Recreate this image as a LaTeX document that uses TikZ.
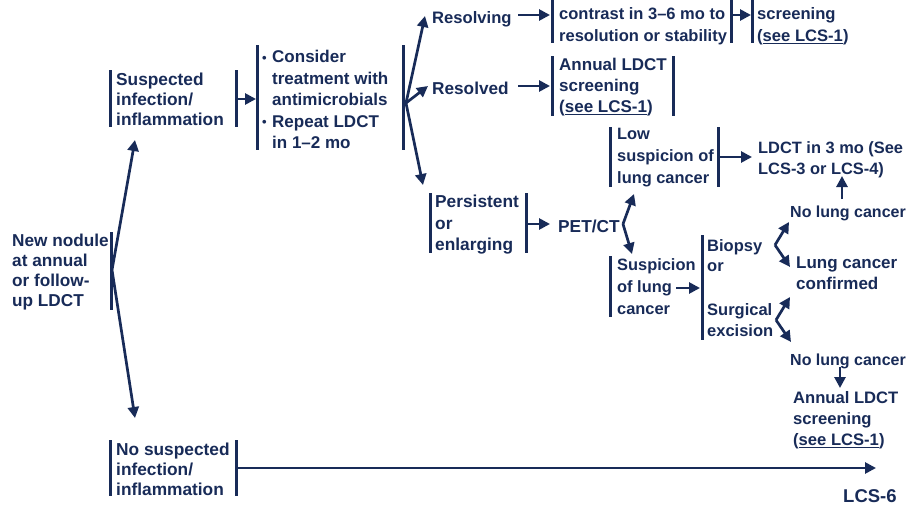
\documentclass[tikz,border=0pt]{standalone}
\usepackage{fontspec}
\setmainfont{Liberation Sans}
\usetikzlibrary{arrows.meta}
\definecolor{navy}{RGB}{24,43,88}
\newsavebox\lcsbox
\newcommand{\lcsul}[1]{\sbox\lcsbox{#1}\rlap{\rule[-2.4pt]{\wd\lcsbox}{1.1pt}}\usebox\lcsbox}
\newcommand{\lcsbul}{\makebox[10pt][l]{\raisebox{0.3pt}{\fontsize{13}{13}\selectfont\textbullet}}}
\newcommand{\lcsind}{\hspace*{10pt}}
\tikzset{
  fs/.style 2 args={font=\bfseries\fontsize{#1}{#2}\selectfont},
  lbl/.style={fs={17}{21}, text=navy, inner sep=0pt,
    align=left, anchor=north west, execute at begin node=\strut},
  bar/.style={draw=navy, line width=3pt},
  arr/.style={draw=navy, line width=2.7pt, -{Triangle[length=11pt,width=11pt]}}
}
\begin{document}
\begin{tikzpicture}[x=1pt,y=-1pt]
\useasboundingbox[fill=white] (0,0) rectangle (911,506);

% ---- text nodes
\node[lbl, fs={17.2}{20}] (newnod) at (12,234) {New nodule\\at annual\\or follow-\\up LDCT};
\node[lbl, fs={17.3}{20}] (susp) at (116,73) {Suspected\\infection/\\inflammation};
\node[lbl, fs={17}{21.5}] (consider) at (262,50) {\lcsbul Consider\\\lcsind treatment with\\\lcsind antimicrobials\\\lcsbul Repeat LDCT\\\lcsind in 1–2 mo};
\node[lbl, fs={16.6}{21}] (resolving) at (432,8.3) {Resolving};
\node[lbl, fs={16.5}{22}] (contrast) at (559,7.6) {contrast in 3–6 mo to\\resolution or stability};
\node[lbl, fs={16.6}{22}] (screen1) at (757,7.6) {screening\\(\lcsul{see LCS-1})};
\node[lbl, fs={17.2}{21}] (resolved) at (432,79.3) {Resolved};
\node[lbl, fs={17}{21}] (annual1) at (559,58.3) {Annual LDCT\\screening\\(\lcsul{see LCS-1})};
\node[lbl, fs={17.3}{21.5}] (persist) at (435,195) {Persistent\\or\\enlarging};
\node[lbl, fs={17.3}{21}] (petct) at (558,217.3) {PET/CT};
\node[lbl, fs={16.4}{22}] (low) at (617,127.6) {Low\\suspicion of\\lung cancer};
\node[lbl, fs={16.4}{21}] (ldct3) at (758,141.3) {LDCT in 3 mo (See\\LCS-3 or LCS-4)};
\node[lbl, fs={16}{21}] (nolung1) at (790,202.6) {No lung cancer};
\node[lbl, fs={16.4}{22}] (suspicion) at (617,258.6) {Suspicion\\of lung\\cancer};
\node[lbl, fs={16.5}{20}] (biopsy) at (707,239) {Biopsy\\or};
\node[lbl, fs={16.5}{21}] (surgical) at (707,303.3) {Surgical\\excision};
\node[lbl, fs={17}{21}] (lungconf) at (796,256.3) {Lung cancer\\confirmed};
\node[lbl, fs={16}{21}] (nolung2) at (790,350.6) {No lung cancer};
\node[lbl, fs={16.6}{21}] (annual2) at (793,391.3) {Annual LDCT\\screening\\(\lcsul{see LCS-1})};
\node[lbl, fs={17.3}{20}] (nosusp) at (116,443) {No suspected\\infection/\\inflammation};
\node[lbl, fs={18.5}{21}] (lcs6) at (843,487.5) {LCS-6};

% ---- bars
\draw[bar] (111,232) -- (111,310);
\draw[bar] (110,70) -- (110,127);
\draw[bar] (236,70) -- (236,127);
\draw[bar] (257,45) -- (257,150);
\draw[bar] (403,45) -- (403,150);
\draw[bar] (552,-2) -- (552,43);
\draw[bar] (731,-2) -- (731,43);
\draw[bar] (752,-2) -- (752,43);
\draw[bar] (552,56) -- (552,116);
\draw[bar] (673,56) -- (673,116);
\draw[bar] (430,193) -- (430,253);
\draw[bar] (526,193) -- (526,253);
\draw[bar] (610,127) -- (610,187);
\draw[bar] (718,127) -- (718,187);
\draw[bar] (610,256) -- (610,317);
\draw[bar] (702,235) -- (702,340);
\draw[bar] (110,440) -- (110,496);
\draw[bar] (236,440) -- (236,496);

% ---- connector end points
\coordinate (f0) at (112,270);
\coordinate (tSusp) at (135,140);
\coordinate (tNoSusp) at (135,418);
\coordinate (sOut) at (236,99);
\coordinate (cIn) at (256,99);
\coordinate (f1) at (406,103);
\coordinate (tResolving) at (425,16);
\coordinate (tResolved) at (428,86);
\coordinate (tPersist) at (423,185);
\coordinate (rvOut) at (518,15);
\coordinate (rvIn) at (550,15);
\coordinate (rdOut) at (518,86);
\coordinate (rdIn) at (550,86);
\coordinate (ctOut) at (733,15);
\coordinate (ctIn) at (751,15);
\coordinate (pOut) at (528,224);
\coordinate (pIn) at (550,224);
\coordinate (f2) at (623,224);
\coordinate (tLow) at (634,194);
\coordinate (tSuspicion) at (632,254);
\coordinate (lOut) at (720,157);
\coordinate (lIn) at (752,157);
\coordinate (nl1Out) at (842,199);
\coordinate (nl1In) at (842,176);
\coordinate (sqOut) at (676,288);
\coordinate (sqIn) at (700,288);
\coordinate (f3) at (775,245);
\coordinate (tNoLung1) at (789,222);
\coordinate (tConf1) at (790,267);
\coordinate (f4) at (776,320);
\coordinate (tConf2) at (790,297);
\coordinate (tNoLung2) at (791,342);
\coordinate (nl2Out) at (840,367);
\coordinate (nl2In) at (840,388);
\coordinate (nsOut) at (236,468);
\coordinate (nsIn) at (876,468);

% ---- connectors
\draw[arr] (f0) -- (tSusp);
\draw[arr] (f0) -- (tNoSusp);
\draw[arr] (sOut) -- (cIn);
\draw[arr] (f1) -- (tResolving);
\draw[arr] (f1) -- (tResolved);
\draw[arr] (f1) -- (tPersist);
\draw[arr] (rvOut) -- (rvIn);
\draw[arr] (rdOut) -- (rdIn);
\draw[arr] (ctOut) -- (ctIn);
\draw[arr] (pOut) -- (pIn);
\draw[arr] (f2) -- (tLow);
\draw[arr] (f2) -- (tSuspicion);
\draw[arr] (lOut) -- (lIn);
\draw[arr] (nl1Out) -- (nl1In);
\draw[arr] (sqOut) -- (sqIn);
\draw[arr] (f3) -- (tNoLung1);
\draw[arr] (f3) -- (tConf1);
\draw[arr] (f4) -- (tConf2);
\draw[arr] (f4) -- (tNoLung2);
\draw[arr] (nl2Out) -- (nl2In);
\draw[arr] (nsOut) -- (nsIn);
\end{tikzpicture}
\end{document}
